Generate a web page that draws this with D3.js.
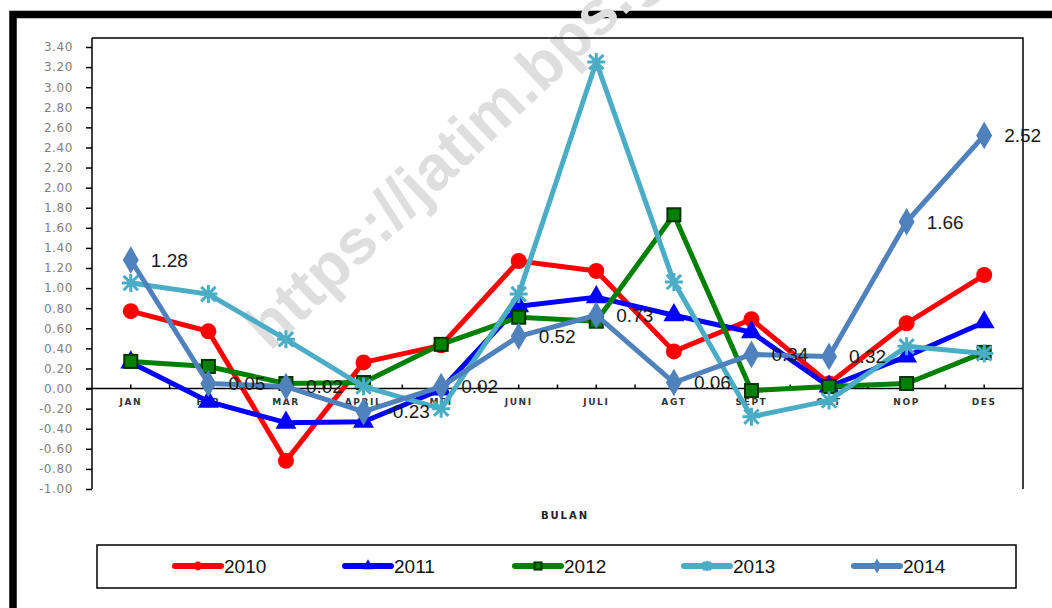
<!DOCTYPE html>
<html><head><meta charset="utf-8">
<script src="https://cdn.jsdelivr.net/npm/d3@7"></script>
<style>body{margin:0;background:#fff}svg{display:block}</style>
</head><body><svg id="c" width="1052" height="608"></svg>
<script>
const months = ["JAN","FEB","MAR","APRIL","MEI","JUNI","JULI","AGT","SEPT","OKT","NOP","DES"];
const years = ["2010","2011","2012","2013","2014"];
const v2010 = [0.77,0.57,-0.72,0.26,0.43,1.27,1.17,0.37,0.69,0.05,0.65,1.13];
const v2011 = [0.26,-0.13,-0.34,-0.33,-0.01,0.82,0.91,0.73,0.56,0.02,0.32,0.66];
const v2012 = [0.27,0.22,0.05,0.06,0.44,0.71,0.67,1.73,-0.02,0.02,0.05,0.36];
const v2013 = [1.05,0.94,0.49,0.02,-0.20,0.94,3.25,1.06,-0.28,-0.12,0.42,0.35];
const v2014 = [1.28,0.05,0.02,-0.23,0.02,0.52,0.73,0.06,0.34,0.32,1.66,2.52];
const yTicks = [-1.0,-0.8,-0.6,-0.4,-0.2,0,0.2,0.4,0.6,0.8,1.0,1.2,1.4,1.6,1.8,2.0,2.2,2.4,2.6,2.8,3.0,3.2,3.4];
const colors = ["#FF0000","#0000FF","#008000","#4BACC6","#4F81BD"];
const markers = ["circle","triangle","square","star","diamond"];
const series = years.map((y,i)=>({name:y, values:[v2010,v2011,v2012,v2013,v2014][i], color:colors[i], marker:markers[i]}));

const svg = d3.select("#c");
const L=92, R=1023, T=38, B=489;
const x = d3.scaleBand().domain(months).range([L,R]);
const y = d3.scaleLinear().domain([-1,3.4]).range([489,47]);
const cx = m => x(m)+x.bandwidth()/2;

// outer border
svg.append("rect").attr("x",13).attr("y",14.5).attr("width",1100).attr("height",700)
  .attr("fill","none").attr("stroke","#000").attr("stroke-width",7.5);

// watermark
svg.append("text").attr("transform","translate(270,352) rotate(-43.5)")
  .attr("font-family","Liberation Sans, Arial, sans-serif").attr("font-weight","bold")
  .attr("font-size",63).attr("fill","#dedede").text("https://jatim.bps.go.id");

// plot frame (top, right)
svg.append("path").attr("d",`M${L},${T}H${R}V${B}`).attr("fill","none").attr("stroke","#000").attr("stroke-width",1.5);

// y axis
const ya = svg.append("g").attr("transform",`translate(${L},0)`)
  .call(d3.axisLeft(y).tickValues(yTicks).tickSize(6).tickPadding(13).tickFormat(d=>d.toFixed(2)));
ya.select(".domain").attr("d",`M0,${T}V${B}`).attr("stroke","#000").attr("stroke-width",1.5);
ya.selectAll(".tick line").attr("stroke","#000").attr("stroke-width",1.5);
ya.selectAll(".tick text").attr("fill","#808080").attr("font-family","DejaVu Sans, Verdana, sans-serif")
  .attr("font-size",12).attr("letter-spacing","0.6px");

// x axis at zero
const xa = svg.append("g").attr("transform",`translate(0,${y(0)})`)
  .call(d3.axisBottom(x).tickSize(0).tickPadding(10));
xa.select(".domain").attr("d",`M${L-6},0H${R}`).attr("stroke","#000").attr("stroke-width",1.5);
xa.selectAll(".tick text").attr("fill","#333").attr("font-family","DejaVu Sans, Verdana, sans-serif")
  .attr("font-weight","bold").attr("font-size",9).attr("letter-spacing","1.6px");
// small ticks at centers and boundaries
const tickXs = months.map(m=>cx(m)).concat(months.slice(1).map(m=>x(m)));
svg.append("g").selectAll("line").data(tickXs).join("line")
  .attr("x1",d=>d).attr("x2",d=>d).attr("y1",y(0)-4).attr("y2",y(0))
  .attr("stroke","#000").attr("stroke-width",1.5);

svg.append("text").attr("x",565).attr("y",519).attr("text-anchor","middle")
  .attr("font-family","DejaVu Sans, Verdana, sans-serif").attr("font-weight","bold")
  .attr("font-size",10).attr("letter-spacing","2px").attr("fill","#222").text("BULAN");

// marker drawing
function drawMarker(g, type, color, scale){
  const s = scale||1;
  if(type==="circle") g.append("circle").attr("r",8*s).attr("fill",color);
  else if(type==="triangle") g.append("path").attr("d",d3.symbol(d3.symbolTriangle,190*s*s)()).attr("fill",color);
  else if(type==="square") g.append("rect").attr("x",-6.5*s).attr("y",-6.5*s).attr("width",13*s).attr("height",13*s)
      .attr("fill",color).attr("stroke","#003300").attr("stroke-width",2);
  else if(type==="diamond") g.append("path").attr("d",d3.symbol(d3.symbolDiamond,220*s*s)()).attr("fill",color);
  else if(type==="star"){
    const r=9*s;
    g.append("path").attr("d",`M${-r*0.8},${-r*0.8}L${r*0.8},${r*0.8}M${-r*0.8},${r*0.8}L${r*0.8},${-r*0.8}M0,${-r}V${r}M${-r},0H${r}`)
      .attr("stroke",color).attr("stroke-width",3).attr("fill","none");
  }
}

const line = d3.line().x((d,i)=>cx(months[i])).y(d=>y(d));
series.forEach(s=>{
  const g = svg.append("g");
  g.append("path").attr("d",line(s.values)).attr("fill","none").attr("stroke",s.color)
    .attr("stroke-width",5).attr("stroke-linejoin","round");
  s.values.forEach((v,i)=>{
    const mg = g.append("g").attr("transform",`translate(${cx(months[i])},${y(v)})`);
    drawMarker(mg, s.marker, s.color);
  });
});

// data labels 2014
svg.append("g").selectAll("text").data(v2014).join("text")
  .attr("x",(d,i)=>cx(months[i])+(d<0?23:20)).attr("y",d=>y(d)).attr("dy","0.36em")
  .attr("font-family","Liberation Sans, Arial, sans-serif").attr("font-size",19)
  .attr("fill","#1a1a1a").text(d=>d.toFixed(2));

// legend
svg.append("rect").attr("x",97).attr("y",545).attr("width",919).attr("height",43)
  .attr("fill","#fff").attr("stroke","#000").attr("stroke-width",1.5);
const legX = [172,342,512,681,851];
series.forEach((s,i)=>{
  const g = svg.append("g").attr("transform",`translate(${legX[i]},566)`);
  g.append("line").attr("x1",3).attr("x2",49).attr("stroke",s.color).attr("stroke-width",6).attr("stroke-linecap","round");
  const mg = g.append("g").attr("transform","translate(26,0)");
  drawMarker(mg, s.marker, s.color, 0.55);
  g.append("text").attr("x",52).attr("dy","0.36em").attr("font-family","Liberation Sans, Arial, sans-serif")
    .attr("font-size",19).attr("fill","#111").text(s.name);
});
</script></body></html>
